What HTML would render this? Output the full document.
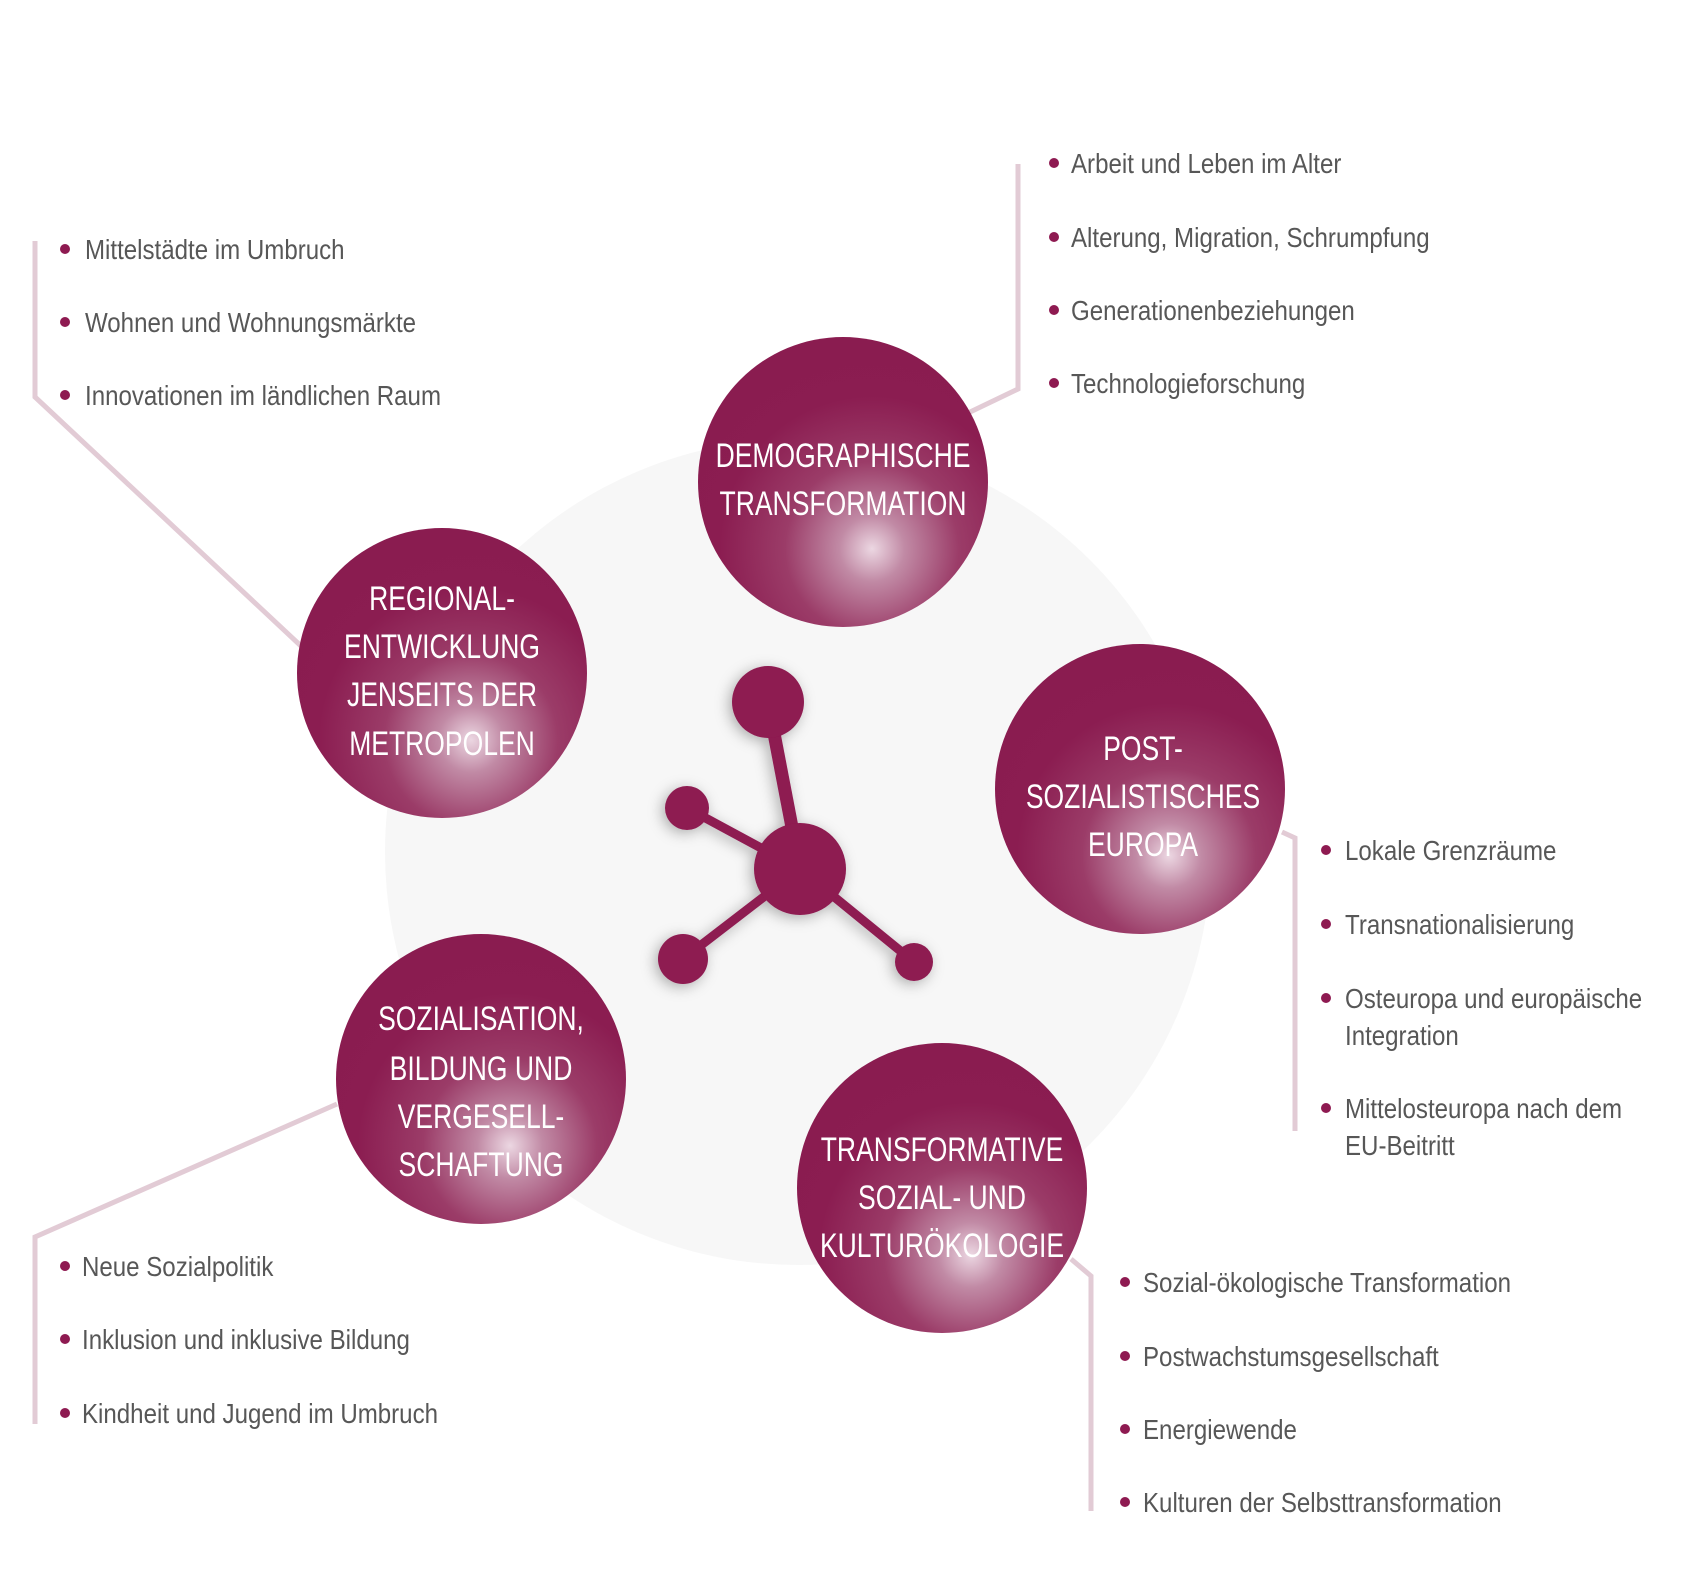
<!DOCTYPE html>
<html><head><meta charset="utf-8"><style>
html,body{margin:0;padding:0;background:#fff}
svg{display:block}
.l{font-family:"Liberation Sans",sans-serif;font-size:28px;fill:#575757}
.c{font-family:"Liberation Sans",sans-serif;font-size:34px;fill:#fff;text-anchor:middle}
</style></head><body>
<svg width="1708" height="1582" viewBox="0 0 1708 1582" xmlns="http://www.w3.org/2000/svg">
<defs>
<radialGradient id="g" cx="0.6" cy="0.73" r="0.75" fx="0.6" fy="0.73">
<stop offset="0" stop-color="#ecd7e2"/>
<stop offset="0.15" stop-color="#c18aa5"/>
<stop offset="0.4" stop-color="#9b3c68"/>
<stop offset="0.7" stop-color="#8b1d51"/>
<stop offset="1" stop-color="#8a1c50"/>
</radialGradient>
<filter id="s" x="-30%" y="-30%" width="160%" height="160%"><feDropShadow dx="-3" dy="3" stdDeviation="7" flood-color="#000" flood-opacity="0.3"/></filter>
</defs>
<circle cx="798" cy="852" r="413" fill="#f7f7f7"/>
<g fill="none" stroke="#e2cbd5" stroke-width="5">
<polyline points="1018,164 1018,389 968,413"/>
<polyline points="35,241 35,397 301,646"/>
<polyline points="1282,832 1295,838 1295,1131"/>
<polyline points="337,1104 35,1237 35,1424"/>
<polyline points="1071,1259 1091,1276 1091,1511"/>
</g>
<g filter="url(#s)" fill="#8e1a51" stroke="#8e1a51">
<line x1="768" y1="702" x2="800" y2="869" stroke-width="13"/>
<line x1="687" y1="808" x2="800" y2="869" stroke-width="9"/>
<line x1="683" y1="959" x2="800" y2="869" stroke-width="9"/>
<line x1="914" y1="962" x2="800" y2="869" stroke-width="9"/>
<circle cx="768" cy="702" r="36" stroke="none"/>
<circle cx="800" cy="869" r="46" stroke="none"/>
<circle cx="687" cy="808" r="22" stroke="none"/>
<circle cx="683" cy="959" r="25" stroke="none"/>
<circle cx="914" cy="962" r="19" stroke="none"/>
</g>
<g fill="url(#g)">
<circle cx="843" cy="482" r="145"/>
<circle cx="442" cy="673" r="145"/>
<circle cx="1140" cy="789" r="145"/>
<circle cx="481" cy="1079" r="145"/>
<circle cx="942" cy="1188" r="145"/>
</g>
<g class="c">
<text transform="translate(843,467) scale(0.78,1)">DEMOGRAPHISCHE</text>
<text transform="translate(843,515) scale(0.78,1)">TRANSFORMATION</text>
<text transform="translate(442,610) scale(0.78,1)">REGIONAL-</text>
<text transform="translate(442,658) scale(0.78,1)">ENTWICKLUNG</text>
<text transform="translate(442,706) scale(0.78,1)">JENSEITS DER</text>
<text transform="translate(442,755) scale(0.78,1)">METROPOLEN</text>
<text transform="translate(1143,760) scale(0.78,1)">POST-</text>
<text transform="translate(1143,808) scale(0.78,1)">SOZIALISTISCHES</text>
<text transform="translate(1143,856) scale(0.78,1)">EUROPA</text>
<text transform="translate(481,1030) scale(0.78,1)">SOZIALISATION,</text>
<text transform="translate(481,1080) scale(0.78,1)">BILDUNG UND</text>
<text transform="translate(481,1128) scale(0.78,1)">VERGESELL-</text>
<text transform="translate(481,1176) scale(0.78,1)">SCHAFTUNG</text>
<text transform="translate(942,1161) scale(0.78,1)">TRANSFORMATIVE</text>
<text transform="translate(942,1209) scale(0.78,1)">SOZIAL- UND</text>
<text transform="translate(942,1257) scale(0.78,1)">KULTURÖKOLOGIE</text>
</g>
<g fill="#8e1a51">
<circle cx="1054" cy="163" r="5"/><circle cx="1054" cy="237" r="5"/><circle cx="1054" cy="310" r="5"/><circle cx="1054" cy="383" r="5"/>
<circle cx="65" cy="249" r="5"/><circle cx="65" cy="322" r="5"/><circle cx="65" cy="395" r="5"/>
<circle cx="1326" cy="850" r="5"/><circle cx="1326" cy="924" r="5"/><circle cx="1326" cy="998" r="5"/><circle cx="1326" cy="1108" r="5"/>
<circle cx="65" cy="1266" r="5"/><circle cx="65" cy="1339" r="5"/><circle cx="65" cy="1413" r="5"/>
<circle cx="1125" cy="1282" r="5"/><circle cx="1125" cy="1356" r="5"/><circle cx="1125" cy="1429" r="5"/><circle cx="1125" cy="1502" r="5"/>
</g>
<g class="l">
<text transform="translate(1071,173) scale(0.86,1)">Arbeit und Leben im Alter</text>
<text transform="translate(1071,247) scale(0.86,1)">Alterung, Migration, Schrumpfung</text>
<text transform="translate(1071,320) scale(0.86,1)">Generationenbeziehungen</text>
<text transform="translate(1071,393) scale(0.86,1)">Technologieforschung</text>
<text transform="translate(85,259) scale(0.86,1)">Mittelstädte im Umbruch</text>
<text transform="translate(85,332) scale(0.86,1)">Wohnen und Wohnungsmärkte</text>
<text transform="translate(85,405) scale(0.86,1)">Innovationen im ländlichen Raum</text>
<text transform="translate(1345,860) scale(0.86,1)">Lokale Grenzräume</text>
<text transform="translate(1345,934) scale(0.86,1)">Transnationalisierung</text>
<text transform="translate(1345,1008) scale(0.86,1)">Osteuropa und europäische</text>
<text transform="translate(1345,1045) scale(0.86,1)">Integration</text>
<text transform="translate(1345,1118) scale(0.86,1)">Mittelosteuropa nach dem</text>
<text transform="translate(1345,1155) scale(0.86,1)">EU-Beitritt</text>
<text transform="translate(82,1276) scale(0.86,1)">Neue Sozialpolitik</text>
<text transform="translate(82,1349) scale(0.86,1)">Inklusion und inklusive Bildung</text>
<text transform="translate(82,1423) scale(0.86,1)">Kindheit und Jugend im Umbruch</text>
<text transform="translate(1143,1292) scale(0.86,1)">Sozial-ökologische Transformation</text>
<text transform="translate(1143,1366) scale(0.86,1)">Postwachstumsgesellschaft</text>
<text transform="translate(1143,1439) scale(0.86,1)">Energiewende</text>
<text transform="translate(1143,1512) scale(0.86,1)">Kulturen der Selbsttransformation</text>
</g>
</svg>
</body></html>
